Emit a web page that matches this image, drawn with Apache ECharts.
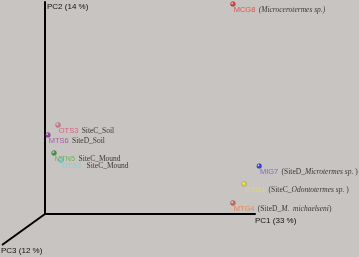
<!DOCTYPE html>
<html><head><meta charset="utf-8">
<script src="https://cdn.jsdelivr.net/npm/echarts@6/dist/echarts.min.js"></script>
<style>html,body{margin:0;padding:0;background:#c8c4c1;}#c{width:359px;height:257px;}</style>
</head><body><div id="c"></div>
<script>
// Sample codes and PCoA scores (arbitrary units)
const codes = ['MCG8','OTS3','MTS6','MTN5','OTS2','MIG7','OTG1','MTG4'];
const pc1 = [89.5, 6.2, 1.4, 4.3, 7.6, 102, 94.8, 89.5];
const pc2 = [99.0, 42.0, 37.3, 28.8, 25.5, 22.6, 14.2, 5.2];
const descParts = [
  [['i','(Microcerotermes sp.)']],
  [['d','SiteC_Soil']],
  [['d','SiteD_Soil']],
  [['d','SiteC_Mound']],
  [['d',' SiteC_Mound']],
  [['d','(SiteD_'],['i','Microtermes sp.'],['d',' )']],
  [['d','(SiteC_'],['i','Odontotermes sp.'],['d',' )']],
  [['d','(SiteD_'],['i','M.  michaelseni'],['d',')']]
];
const axisNames = ['PC1 (33 %)','PC2 (14 %)','PC3 (12 %)'];

// styles
const dotColors = ['#d02828','#d86a88','#8a2a9a','#2a8a2a','#6ad0d0','#1a28c8','#e0d820','#c85a3a'];
const codeColors = ['#e03a2a','#d84a70','#a040a8','#58b048','#6fd8dc','#6a50c8','#eee22a','#f07838'];

const chart = echarts.init(document.getElementById('c'), null, {renderer:'canvas'});
const data = codes.map((c,i)=>{
  const fmt = '{c|'+c+'} ' + descParts[i].map(p=>'{'+p[0]+'|'+p[1]+'}').join('');
  return {
    value:[pc1[i], pc2[i]],
    itemStyle:{color:{type:'radial',x:0.35,y:0.35,r:0.7,colorStops:[{offset:0,color:'#ffffff'},{offset:0.35,color:dotColors[i]},{offset:1,color:dotColors[i]}]}, borderColor:'rgba(0,0,0,0.35)', borderWidth:0.5},
    label:{formatter:fmt, rich:{
      c:{color:codeColors[i], fontFamily:'Liberation Sans', fontSize:7.5},
      d:{color:'#111', fontFamily:'Liberation Serif', fontSize:7.5},
      i:{color:'#111', fontFamily:'Liberation Serif', fontStyle:'italic', fontSize:7.5}
    }}
  };
});
chart.setOption({
  backgroundColor:'#c8c4c1',
  animation:false,
  grid:{left:45, top:2, right:104, bottom:43},
  xAxis:{type:'value', min:0, max:100, splitLine:{show:false}, axisTick:{show:false}, axisLabel:{show:false},
    axisLine:{lineStyle:{color:'#000', width:2}},
    name:axisNames[0], nameLocation:'end', nameGap:0,
    nameTextStyle:{color:'#111', fontFamily:'Liberation Sans', fontSize:8, align:'left', verticalAlign:'top', padding:[3,0,0,0]}},
  yAxis:{type:'value', min:0, max:100, splitLine:{show:false}, axisTick:{show:false}, axisLabel:{show:false},
    axisLine:{lineStyle:{color:'#000', width:2}},
    name:axisNames[1], nameLocation:'end', nameGap:0,
    nameTextStyle:{color:'#111', fontFamily:'Liberation Sans', fontSize:8, align:'left', verticalAlign:'top', padding:[1,0,0,2]}},
  series:[{type:'scatter', clip:false, symbolSize:5, data:data,
    label:{show:true, position:'right', distance:0, offset:[-2,6]}}]
});
// PC3 axis drawn from the plot origin
const o = chart.convertToPixel({gridIndex:0},[0,0]);
chart.setOption({graphic:[
  {type:'line', shape:{x1:o[0], y1:o[1], x2:o[0]-43, y2:o[1]+31}, style:{stroke:'#000', lineWidth:2}},
  {type:'text', x:o[0]-44, y:o[1]+33, style:{text:axisNames[2], fill:'#111', font:'8px "Liberation Sans"'}}
]});
</script></body></html>
